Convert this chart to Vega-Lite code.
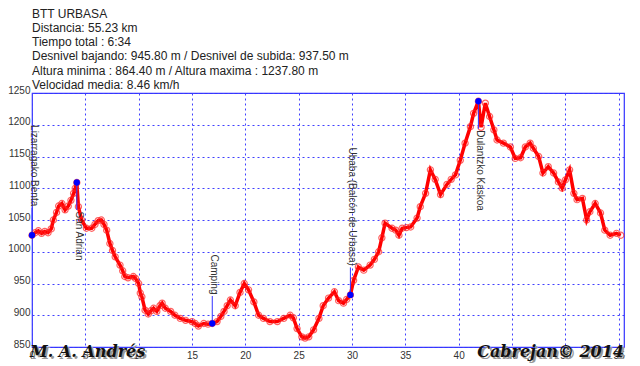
{
  "$schema": "https://vega.github.io/schema/vega-lite/v6.json",
  "autosize": {"type": "none"},
  "width": 592,
  "height": 254,
  "padding": {"left": 32, "top": 93, "right": 16, "bottom": 19},
  "background": "white",
  "title": {
    "text": ["BTT URBASA", "Distancia: 55.23 km", "Tiempo total : 6:34", "Desnivel bajando: 945.80 m / Desnivel de subida: 937.50 m", "Altura minima : 864.40 m / Altura maxima : 1237.80 m", "Velocidad media: 8.46 km/h"],
    "anchor": "start",
    "frame": "group",
    "font": "Liberation Sans",
    "fontSize": 12,
    "fontWeight": "normal",
    "color": "#222222",
    "baseline": "bottom",
    "lineHeight": 14.3,
    "offset": -19
  },
  "config": {
    "view": {"stroke": "#3333ff", "strokeWidth": 1.2},
    "axis": {
      "domain": false,
      "ticks": false,
      "grid": true,
      "gridColor": "#4040ff",
      "gridDash": [2, 3],
      "gridWidth": 1,
      "gridOpacity": 1,
      "labelFont": "Liberation Sans",
      "labelFontSize": 10,
      "labelColor": "#333333",
      "labelOverlap": false,
      "title": null
    }
  },
  "datasets": {
    "track": [
      {"km": 0.0, "alt": 1026}, {"km": 0.3, "alt": 1030}, {"km": 0.6, "alt": 1033}, {"km": 0.9, "alt": 1029},
      {"km": 1.2, "alt": 1032}, {"km": 1.5, "alt": 1030}, {"km": 1.8, "alt": 1036}, {"km": 2.0, "alt": 1050},
      {"km": 2.3, "alt": 1062}, {"km": 2.5, "alt": 1072}, {"km": 2.8, "alt": 1076}, {"km": 3.1, "alt": 1066},
      {"km": 3.4, "alt": 1072}, {"km": 3.65, "alt": 1081}, {"km": 3.9, "alt": 1092}, {"km": 4.05, "alt": 1100},
      {"km": 4.2, "alt": 1109}, {"km": 4.35, "alt": 1071}, {"km": 4.65, "alt": 1050}, {"km": 5.1, "alt": 1037},
      {"km": 5.6, "alt": 1037}, {"km": 5.9, "alt": 1043}, {"km": 6.2, "alt": 1049}, {"km": 6.5, "alt": 1050},
      {"km": 6.75, "alt": 1043}, {"km": 7.0, "alt": 1034}, {"km": 7.3, "alt": 1013}, {"km": 7.55, "alt": 1002},
      {"km": 7.8, "alt": 992}, {"km": 8.25, "alt": 979}, {"km": 8.5, "alt": 970}, {"km": 8.7, "alt": 961},
      {"km": 9.0, "alt": 959}, {"km": 9.5, "alt": 961}, {"km": 9.7, "alt": 958}, {"km": 10.0, "alt": 950},
      {"km": 10.15, "alt": 935}, {"km": 10.3, "alt": 929}, {"km": 10.6, "alt": 908}, {"km": 10.9, "alt": 902},
      {"km": 11.15, "alt": 907}, {"km": 11.4, "alt": 911}, {"km": 11.7, "alt": 906}, {"km": 12.0, "alt": 915},
      {"km": 12.2, "alt": 919}, {"km": 12.5, "alt": 911}, {"km": 13.0, "alt": 906}, {"km": 13.4, "alt": 900},
      {"km": 13.9, "alt": 895}, {"km": 14.4, "alt": 892}, {"km": 15.0, "alt": 890}, {"km": 15.3, "alt": 887},
      {"km": 15.6, "alt": 883}, {"km": 16.1, "alt": 887}, {"km": 16.5, "alt": 886}, {"km": 16.9, "alt": 887},
      {"km": 17.35, "alt": 890}, {"km": 17.7, "alt": 898}, {"km": 18.0, "alt": 906}, {"km": 18.3, "alt": 915},
      {"km": 18.6, "alt": 924}, {"km": 19.05, "alt": 915}, {"km": 19.5, "alt": 936}, {"km": 19.9, "alt": 950},
      {"km": 20.3, "alt": 940}, {"km": 20.8, "alt": 921}, {"km": 21.25, "alt": 900}, {"km": 21.7, "alt": 895},
      {"km": 22.3, "alt": 890}, {"km": 23.0, "alt": 890}, {"km": 23.6, "alt": 895}, {"km": 24.2, "alt": 900},
      {"km": 24.5, "alt": 896}, {"km": 24.85, "alt": 879}, {"km": 25.3, "alt": 866}, {"km": 25.6, "alt": 864},
      {"km": 25.95, "alt": 866}, {"km": 26.4, "alt": 877}, {"km": 26.9, "alt": 895}, {"km": 27.3, "alt": 915},
      {"km": 27.8, "alt": 927}, {"km": 28.35, "alt": 937}, {"km": 28.75, "alt": 923}, {"km": 29.2, "alt": 919},
      {"km": 29.5, "alt": 925}, {"km": 29.85, "alt": 932}, {"km": 30.15, "alt": 955}, {"km": 30.6, "alt": 976},
      {"km": 31.1, "alt": 971}, {"km": 31.7, "alt": 979}, {"km": 32.1, "alt": 988}, {"km": 32.5, "alt": 1000},
      {"km": 32.8, "alt": 1022}, {"km": 33.1, "alt": 1045}, {"km": 33.75, "alt": 1037}, {"km": 34.1, "alt": 1034},
      {"km": 34.4, "alt": 1026}, {"km": 34.7, "alt": 1037}, {"km": 35.1, "alt": 1038}, {"km": 35.5, "alt": 1039},
      {"km": 36.1, "alt": 1053}, {"km": 36.4, "alt": 1071}, {"km": 36.9, "alt": 1092}, {"km": 37.35, "alt": 1129},
      {"km": 37.8, "alt": 1114}, {"km": 38.3, "alt": 1090}, {"km": 38.9, "alt": 1106}, {"km": 39.3, "alt": 1114},
      {"km": 39.7, "alt": 1121}, {"km": 40.15, "alt": 1144}, {"km": 40.6, "alt": 1171}, {"km": 41.1, "alt": 1197},
      {"km": 41.4, "alt": 1218}, {"km": 41.85, "alt": 1237}, {"km": 42.1, "alt": 1196}, {"km": 42.5, "alt": 1234},
      {"km": 42.9, "alt": 1213}, {"km": 43.3, "alt": 1192}, {"km": 43.6, "alt": 1176}, {"km": 44.2, "alt": 1171},
      {"km": 44.85, "alt": 1165}, {"km": 45.3, "alt": 1147}, {"km": 45.8, "alt": 1148}, {"km": 46.25, "alt": 1165},
      {"km": 46.7, "alt": 1171}, {"km": 47.0, "alt": 1163}, {"km": 47.5, "alt": 1150}, {"km": 47.9, "alt": 1124},
      {"km": 48.4, "alt": 1134}, {"km": 48.9, "alt": 1124}, {"km": 49.35, "alt": 1110}, {"km": 49.7, "alt": 1100},
      {"km": 50.0, "alt": 1113}, {"km": 50.4, "alt": 1129}, {"km": 50.8, "alt": 1092}, {"km": 51.1, "alt": 1082},
      {"km": 51.6, "alt": 1084}, {"km": 52.0, "alt": 1050}, {"km": 52.3, "alt": 1063}, {"km": 52.8, "alt": 1076},
      {"km": 53.3, "alt": 1061}, {"km": 53.7, "alt": 1034}, {"km": 54.2, "alt": 1026}, {"km": 54.8, "alt": 1029},
      {"km": 55.2, "alt": 1026}
    ],
    "waypoints": [
      {"name": "Lizarragako Benta", "km": 0.0, "alt": 1026, "side": "above"},
      {"name": "San Adrian", "km": 4.2, "alt": 1109, "side": "below"},
      {"name": "Camping", "km": 16.9, "alt": 887, "side": "above"},
      {"name": "Ubaba (Balcón de Urbasa)", "km": 29.85, "alt": 932, "side": "above"},
      {"name": "Dulantzko Kaskoa", "km": 41.85, "alt": 1237, "side": "below"}
    ]
  },
  "layer": [
    {
      "data": {"name": "track"},
      "mark": {"type": "line", "color": "#ff0000", "strokeWidth": 3.5},
      "encoding": {
        "x": {"field": "km", "type": "quantitative", "scale": {"domain": [0, 55.5], "nice": false, "zero": false},
          "axis": {"values": [0, 5, 10, 15, 20, 25, 30, 35, 40, 45, 50, 55], "tickCount": 30, "labelPadding": 3, "labelFlush": false}},
        "y": {"field": "alt", "type": "quantitative", "scale": {"domain": [850, 1250], "nice": false, "zero": false},
          "axis": {"values": [850, 900, 950, 1000, 1050, 1100, 1150, 1200, 1250], "tickCount": 30, "labelExpr": "replace(datum.label, ',', '')", "labelBaseline": "alphabetic", "labelPadding": 2, "labelFlush": false}}
      }
    },
    {
      "data": {"name": "track"},
      "mark": {"type": "point", "shape": "circle", "filled": false, "color": "#ff2020", "size": 38, "strokeWidth": 1.2},
      "encoding": {"x": {"field": "km", "type": "quantitative"}, "y": {"field": "alt", "type": "quantitative"}}
    },
    {
      "data": {"name": "waypoints"},
      "transform": [{"filter": "datum.side === 'below'"}],
      "mark": {"type": "point", "shape": "M0,0L0,1", "filled": false, "color": "#3333ff", "strokeWidth": 1, "size": 3025, "opacity": 1},
      "encoding": {"x": {"field": "km", "type": "quantitative"}, "y": {"field": "alt", "type": "quantitative"}}
    },
    {
      "data": {"name": "waypoints"},
      "transform": [{"filter": "datum.side === 'above'"}],
      "mark": {"type": "point", "shape": "M0,0L0,-1", "filled": false, "color": "#3333ff", "strokeWidth": 1, "size": 3025, "opacity": 1},
      "encoding": {"x": {"field": "km", "type": "quantitative"}, "y": {"field": "alt", "type": "quantitative"}}
    },
    {
      "data": {"name": "waypoints"},
      "mark": {"type": "point", "shape": "circle", "filled": true, "color": "#0000ff", "size": 40, "opacity": 1},
      "encoding": {"x": {"field": "km", "type": "quantitative"}, "y": {"field": "alt", "type": "quantitative"}}
    },
    {
      "data": {"name": "waypoints"},
      "transform": [{"filter": "datum.side === 'below'"}],
      "mark": {"type": "text", "angle": 90, "align": "left", "baseline": "middle", "dx": 29, "dy": -2, "font": "Liberation Sans", "fontSize": 10, "color": "#333333"},
      "encoding": {"x": {"field": "km", "type": "quantitative"}, "y": {"field": "alt", "type": "quantitative"}, "text": {"field": "name"}}
    },
    {
      "data": {"name": "waypoints"},
      "transform": [{"filter": "datum.side === 'above'"}],
      "mark": {"type": "text", "angle": 90, "align": "right", "baseline": "middle", "dx": -29, "dy": -2, "font": "Liberation Sans", "fontSize": 10, "color": "#333333"},
      "encoding": {"x": {"field": "km", "type": "quantitative"}, "y": {"field": "alt", "type": "quantitative"}, "text": {"field": "name"}}
    },
    {
      "data": {"values": [{"label": "M. A. Andrés"}]},
      "mark": {"type": "text", "align": "left", "baseline": "middle", "dx": 0, "dy": 7, "font": "DejaVu Serif", "fontStyle": "italic", "fontWeight": "bold", "fontSize": 16, "color": "#999999"},
      "encoding": {"x": {"datum": 0, "type": "quantitative"}, "y": {"datum": 850, "type": "quantitative"}, "text": {"field": "label"}}
    },
    {
      "data": {"values": [{"label": "M. A. Andrés"}]},
      "mark": {"type": "text", "align": "left", "baseline": "middle", "dx": -2, "dy": 5, "font": "DejaVu Serif", "fontStyle": "italic", "fontWeight": "bold", "fontSize": 16, "color": "#111111"},
      "encoding": {"x": {"datum": 0, "type": "quantitative"}, "y": {"datum": 850, "type": "quantitative"}, "text": {"field": "label"}}
    },
    {
      "data": {"values": [{"label": "Cabrejan© 2014"}]},
      "mark": {"type": "text", "align": "right", "baseline": "middle", "dx": 2, "dy": 7, "font": "DejaVu Serif", "fontStyle": "italic", "fontWeight": "bold", "fontSize": 16, "color": "#999999"},
      "encoding": {"x": {"datum": 55.5, "type": "quantitative"}, "y": {"datum": 850, "type": "quantitative"}, "text": {"field": "label"}}
    },
    {
      "data": {"values": [{"label": "Cabrejan© 2014"}]},
      "mark": {"type": "text", "align": "right", "baseline": "middle", "dx": 0, "dy": 5, "font": "DejaVu Serif", "fontStyle": "italic", "fontWeight": "bold", "fontSize": 16, "color": "#111111"},
      "encoding": {"x": {"datum": 55.5, "type": "quantitative"}, "y": {"datum": 850, "type": "quantitative"}, "text": {"field": "label"}}
    }
  ]
}
